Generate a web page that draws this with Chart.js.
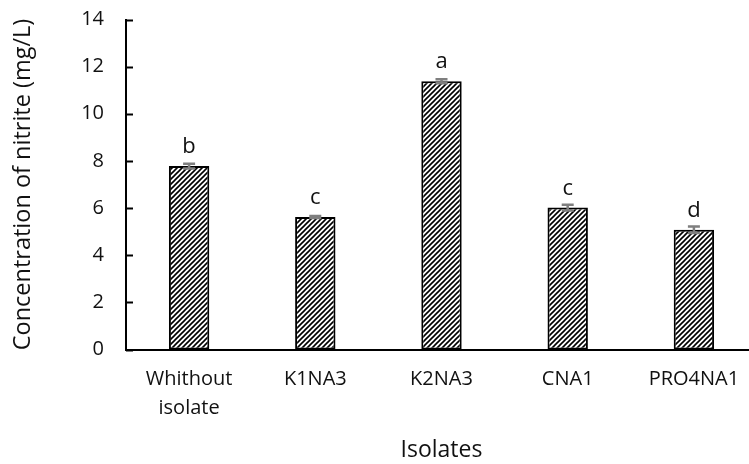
<!DOCTYPE html>
<html>
<head>
<meta charset="utf-8">
<script src="https://cdn.jsdelivr.net/npm/chart.js@4"></script>
<style>
    html, body { margin: 0; padding: 0; background: #fff; overflow: hidden; }
</style>
</head>
<body>
<canvas id="nitriteChart" width="757" height="464"></canvas>
<script>
const isolates = [['Whithout', 'isolate'], 'K1NA3', 'K2NA3', 'CNA1', 'PRO4NA1'];
const nitrite = [7.78, 5.62, 11.38, 6.02, 5.08];
const errors = [0.1, 0.04, 0.08, 0.12, 0.14];
const letters = ['b', 'c', 'a', 'c', 'd'];
const yTicks = [0, 2, 4, 6, 8, 10, 12, 14];

const FONT = "'Open Sans', 'Liberation Sans', sans-serif";

// hatch fill for the bars (///)
function makeHatch() {
    const size = 5;
    const c = document.createElement('canvas');
    c.width = size;
    c.height = size;
    const g = c.getContext('2d');
    g.fillStyle = '#fff';
    g.fillRect(0, 0, size, size);
    g.strokeStyle = '#000';
    g.lineWidth = 1.6;
    g.beginPath();
    g.moveTo(-1, size + 1);
    g.lineTo(size + 1, -1);
    g.moveTo(-1, 1);
    g.lineTo(1, -1);
    g.moveTo(size - 1, size + 1);
    g.lineTo(size + 1, size - 1);
    g.stroke();
    return g.createPattern(c, 'repeat');
}

const extras = {
    id: 'extras',
    afterDatasetsDraw(chart) {
        const ctx = chart.ctx;
        const y = chart.scales.y;
        const area = chart.chartArea;
        const meta = chart.getDatasetMeta(0);
        ctx.save();

        // inside tick marks on the value axis
        ctx.strokeStyle = '#000';
        ctx.lineWidth = 2;
        y.ticks.forEach(t => {
            const py = Math.round(y.getPixelForValue(t.value)) + 0.5;
            ctx.beginPath();
            ctx.moveTo(area.left, py);
            ctx.lineTo(area.left + 7, py);
            ctx.stroke();
        });

        // error bars
        ctx.strokeStyle = '#7f7f7f';
        ctx.lineWidth = 2.5;
        meta.data.forEach((bar, i) => {
            const top = y.getPixelForValue(nitrite[i] + errors[i]);
            const bottom = y.getPixelForValue(nitrite[i] - errors[i]);
            ctx.beginPath();
            ctx.moveTo(bar.x, top);
            ctx.lineTo(bar.x, bottom);
            ctx.moveTo(bar.x - 6, top);
            ctx.lineTo(bar.x + 6, top);
            ctx.moveTo(bar.x - 6, bottom);
            ctx.lineTo(bar.x + 6, bottom);
            ctx.stroke();
        });

        // significance letters
        ctx.fillStyle = '#111';
        ctx.font = '22px ' + FONT;
        ctx.textAlign = 'center';
        ctx.textBaseline = 'alphabetic';
        meta.data.forEach((bar, i) => {
            ctx.fillText(letters[i], bar.x, y.getPixelForValue(nitrite[i]) - 13);
        });
        ctx.restore();
    }
};

new Chart(document.getElementById('nitriteChart'), {
    type: 'bar',
    data: {
        labels: isolates,
        datasets: [{
            data: nitrite,
            backgroundColor: makeHatch(),
            borderColor: '#000',
            borderWidth: 2,
            borderSkipped: false,
            categoryPercentage: 1,
            barPercentage: 0.32
        }]
    },
    options: {
        responsive: false,
        animation: false,
        layout: { padding: { top: 19.5, right: 0, bottom: 0, left: 0 } },
        plugins: {
            legend: { display: false },
            tooltip: { enabled: false }
        },
        scales: {
            x: {
                grid: { display: false, drawTicks: false },
                border: { display: true, color: '#000', width: 2 },
                ticks: {
                    color: '#111',
                    padding: 15,
                    font: { family: FONT, size: 20, lineHeight: 1.45 },
                    maxRotation: 0
                },
                title: {
                    display: true,
                    text: 'Isolates',
                    color: '#111',
                    font: { family: FONT, size: 23 },
                    padding: { top: 0, bottom: 0 }
                },
                afterFit: s => { s.height = 114.5; }
            },
            y: {
                min: 0,
                max: 14,
                afterBuildTicks: s => { s.ticks = yTicks.map(v => ({ value: v })); },
                grid: { display: false, drawTicks: false },
                border: { display: true, color: '#000', width: 2 },
                ticks: {
                    color: '#111',
                    padding: 22,
                    font: { family: FONT, size: 20 }
                },
                title: {
                    display: true,
                    text: 'Concentration of nitrite (mg/L)',
                    color: '#111',
                    font: { family: FONT, size: 23.5 },
                    padding: { top: 9, bottom: 0 }
                },
                afterFit: s => {
                    s.width = 126;
                    s.paddingTop = 0;
                    s.paddingBottom = 0;
                }
            }
        }
    },
    plugins: [extras]
});
</script>
</body>
</html>
